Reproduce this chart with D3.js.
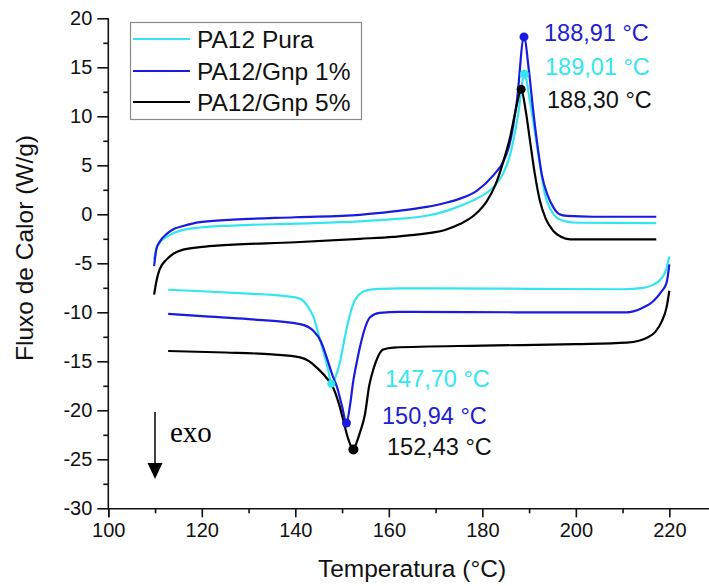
<!DOCTYPE html>
<html>
<head>
<meta charset="utf-8">
<script src="https://cdn.jsdelivr.net/npm/d3@7"></script>
<style>
  html, body { margin: 0; padding: 0; background: #fff; }
  svg { display: block; }
</style>
</head>
<body>
<svg id="chart" width="709" height="586"></svg>
<script>
// DSC curves: [temperature °C, heat flow W/g]
const heatPura = [[109.8,-4.6],[110.3,-3.5],[111,-2.9],[112.5,-2.3],[114,-1.9],[116,-1.6],[119.6,-1.35],[126.7,-1.15],[140,-0.95],[153.8,-0.72],[161,-0.5],[168.1,-0.15],[172,0.3],[175.2,0.85],[178.8,1.6],[182.4,2.8],[184.5,4.2],[185.9,6.0],[187.6,10],[189.0,14.3],[190.2,11.5],[191.3,8.2],[192.4,4.8],[193.4,2.0],[194.6,0.5],[195.9,-0.35],[198,-0.75],[200.2,-0.86],[217.2,-0.9]];
const heatGnp1 = [[109.8,-5.3],[110.3,-3.5],[111,-2.8],[112.5,-2.0],[114,-1.5],[116,-1.2],[119.6,-0.8],[126.7,-0.55],[140,-0.3],[153.8,-0.05],[161,0.3],[168.1,0.75],[172,1.15],[175.2,1.6],[178.8,2.4],[182.4,4.0],[184.5,5.4],[185.9,7.3],[187.4,11.6],[188.91,18.1],[190,14.5],[190.9,10.5],[191.8,7.0],[192.7,4.1],[194,1.9],[195.2,0.7],[196.5,0.0],[198.1,-0.17],[203.7,-0.25],[217.2,-0.25]];
const heatGnp5 = [[109.8,-8.2],[110.3,-6.8],[111,-5.6],[112.5,-4.6],[114,-4.0],[116,-3.6],[119.6,-3.35],[123.2,-3.2],[140,-2.85],[153.8,-2.5],[161,-2.3],[168.1,-1.95],[172,-1.6],[175.2,-1.0],[178.5,0.0],[180.9,1.3],[182.8,3.0],[184.5,5.4],[186,8.0],[187.3,11],[188.3,12.75],[189.3,10.5],[190.2,7.5],[191.2,4.2],[192.3,1.4],[193.6,-0.5],[195.2,-1.7],[196.8,-2.3],[198.8,-2.55],[217.2,-2.55]];

const coolPura = [[112.8,-7.7],[120,-7.85],[130,-8.1],[137.4,-8.33],[141,-8.6],[142.5,-9.3],[143.9,-10.5],[145,-12.3],[146,-14.0],[147.0,-15.8],[147.7,-17.3],[148.4,-16.8],[149.6,-15.0],[150.4,-13.0],[151.3,-11.0],[152.2,-9.4],[153.1,-8.5],[155.3,-7.75],[158,-7.6],[162.4,-7.55],[190,-7.6],[210,-7.65],[214.4,-7.5],[216.5,-7.2],[218,-6.7],[219.2,-5.8],[220,-4.3]];
const coolGnp1 = [[112.8,-10.15],[120,-10.4],[130,-10.7],[141,-11.2],[143.9,-11.9],[145.5,-13.0],[146.7,-14.6],[148.0,-16.5],[148.9,-17.6],[150.0,-19.6],[150.94,-21.3],[151.7,-19.5],[152.4,-17.0],[153.1,-15.2],[153.8,-13.6],[154.9,-11.6],[156,-10.5],[158,-10.05],[162.4,-9.95],[190,-10.0],[210.9,-10.0],[214,-9.6],[216.6,-8.85],[218.3,-7.9],[219.4,-7.0],[220,-5.1]];
const coolGnp5 = [[112.8,-13.95],[125,-14.1],[135,-14.3],[141,-14.6],[143,-15.0],[144.6,-15.65],[146.5,-16.6],[148.1,-17.7],[149.3,-19.3],[150.3,-21.1],[151.3,-22.9],[152.43,-24.0],[153.1,-23.3],[153.8,-22.3],[154.9,-20.4],[155.8,-17.5],[156.7,-15.8],[157.7,-14.5],[158.8,-13.8],[161,-13.6],[180,-13.4],[200,-13.25],[210.9,-13.1],[213.5,-12.9],[215.2,-12.6],[217,-12.0],[218.4,-10.9],[219.4,-9.5],[220,-7.8]];

const seriesNames = ["PA12 Pura", "PA12/Gnp 1%", "PA12/Gnp 5%"];
const seriesColors = ["#33e6ee", "#1a1ae0", "#000000"];

// peak markers: [T, value, label]
const meltPeaks = [[189.01, 14.3, "189,01 °C"], [188.91, 18.1, "188,91 °C"], [188.30, 12.75, "188,30 °C"]];
const crystPeaks = [[147.70, -17.3, "147,70 °C"], [150.94, -21.3, "150,94 °C"], [152.43, -24.0, "152,43 °C"]];

const xTicks = [100, 120, 140, 160, 180, 200, 220];
const yTicks = [-30, -25, -20, -15, -10, -5, 0, 5, 10, 15, 20];

const svg = d3.select("#chart");
const font = "'Liberation Sans', Arial, sans-serif";

const x = d3.scaleLinear().domain([100, 230]).range([108.3, 716.1]);
const y = d3.scaleLinear().domain([-30, 20]).range([508.3, 18.3]);

// axes
const xAxis = svg.append("g")
    .attr("transform", `translate(0,${y(-30)})`)
    .call(d3.axisBottom(x).tickValues(xTicks).tickSize(9).tickPadding(6).tickFormat(d => String(d)));
const xMinor = svg.append("g")
    .attr("transform", `translate(0,${y(-30)})`)
    .call(d3.axisBottom(x).tickValues(d3.range(110, 230, 20)).tickSize(5).tickFormat(""));
const yAxis = svg.append("g")
    .attr("transform", `translate(${x(100)},0)`)
    .call(d3.axisLeft(y).tickValues(yTicks).tickSize(11).tickPadding(5).tickFormat(d => String(d)));
const yMinor = svg.append("g")
    .attr("transform", `translate(${x(100)},0)`)
    .call(d3.axisLeft(y).tickValues(d3.range(-27.5, 20, 5)).tickSize(5).tickFormat(""));

[xAxis, xMinor, yAxis, yMinor].forEach(g => {
    g.select(".domain").attr("stroke", "#111").attr("stroke-width", 1.6);
    g.selectAll(".tick line").attr("stroke", "#111").attr("stroke-width", 1.6);
    g.selectAll("text").attr("font-family", font).attr("font-size", 20).attr("fill", "#111");
});
xMinor.select(".domain").remove();
yMinor.select(".domain").remove();
yAxis.select(".domain").attr("d", `M-0,${y(-30)}V${y(20)}`);

// axis titles
svg.append("text")
    .attr("x", 412).attr("y", 577)
    .attr("text-anchor", "middle")
    .attr("font-family", font).attr("font-size", 24.5).attr("fill", "#111")
    .text("Temperatura (°C)");
svg.append("text")
    .attr("transform", "translate(33,248) rotate(-90)")
    .attr("text-anchor", "middle")
    .attr("font-family", font).attr("font-size", 24.5).attr("fill", "#111")
    .text("Fluxo de Calor (W/g)");

// curves
const line = d3.line()
    .x(d => x(d[0]))
    .y(d => y(d[1]))
    .curve(d3.curveMonotoneX);

const heat = [heatPura, heatGnp1, heatGnp5];
const cool = [coolPura, coolGnp1, coolGnp5];

[0, 1, 2].forEach(i => {
    svg.append("path").datum(heat[i])
        .attr("d", line).attr("fill", "none")
        .attr("stroke", seriesColors[i]).attr("stroke-width", 2.2);
    svg.append("path").datum(cool[i])
        .attr("d", line).attr("fill", "none")
        .attr("stroke", seriesColors[i]).attr("stroke-width", 2.2);
});

// peak dots
const dotR = [4, 4.5, 5];
[0, 1, 2].forEach(i => {
    svg.append("circle")
        .attr("cx", x(meltPeaks[i][0])).attr("cy", y(meltPeaks[i][1]))
        .attr("r", 4.5).attr("fill", seriesColors[i]);
    svg.append("circle")
        .attr("cx", x(crystPeaks[i][0])).attr("cy", y(crystPeaks[i][1]))
        .attr("r", dotR[i]).attr("fill", seriesColors[i]);
});

// peak labels
const meltLabelY = [75, 41, 108];
const meltLabelX = [545, 544, 547];
const crystLabelY = [387, 424, 455];
const crystLabelX = [385, 382, 387];
const labelColors = ["#33e6ee", "#2020d0", "#111"];
[0, 1, 2].forEach(i => {
    svg.append("text")
        .attr("x", meltLabelX[i]).attr("y", meltLabelY[i])
        .attr("font-family", font).attr("font-size", 23.5)
        .attr("fill", labelColors[i])
        .text(meltPeaks[i][2]);
    svg.append("text")
        .attr("x", crystLabelX[i]).attr("y", crystLabelY[i])
        .attr("font-family", font).attr("font-size", 23.5)
        .attr("fill", labelColors[i])
        .text(crystPeaks[i][2]);
});

// exo arrow
svg.append("line")
    .attr("x1", 155).attr("x2", 155)
    .attr("y1", 412).attr("y2", 466)
    .attr("stroke", "#000").attr("stroke-width", 1.5);
svg.append("path")
    .attr("d", "M147.5,463 L162.5,463 L155,479 Z")
    .attr("fill", "#000");
svg.append("text")
    .attr("x", 170).attr("y", 442)
    .attr("font-family", "'Liberation Serif', 'Times New Roman', serif")
    .attr("font-size", 29).attr("fill", "#000")
    .text("exo");

// legend
const legend = svg.append("g");
legend.append("rect")
    .attr("x", 130.5).attr("y", 22.5)
    .attr("width", 231).attr("height", 97)
    .attr("fill", "#fff").attr("stroke", "#8a8a8a").attr("stroke-width", 1.2);
const legY = [39, 71, 102];
seriesNames.forEach((name, i) => {
    legend.append("line")
        .attr("x1", 133).attr("x2", 190)
        .attr("y1", legY[i]).attr("y2", legY[i])
        .attr("stroke", seriesColors[i]).attr("stroke-width", 2.2);
    legend.append("text")
        .attr("x", 197).attr("y", legY[i] + 9)
        .attr("font-family", font).attr("font-size", 24.5).attr("fill", "#111")
        .text(name);
});
</script>
</body>
</html>
